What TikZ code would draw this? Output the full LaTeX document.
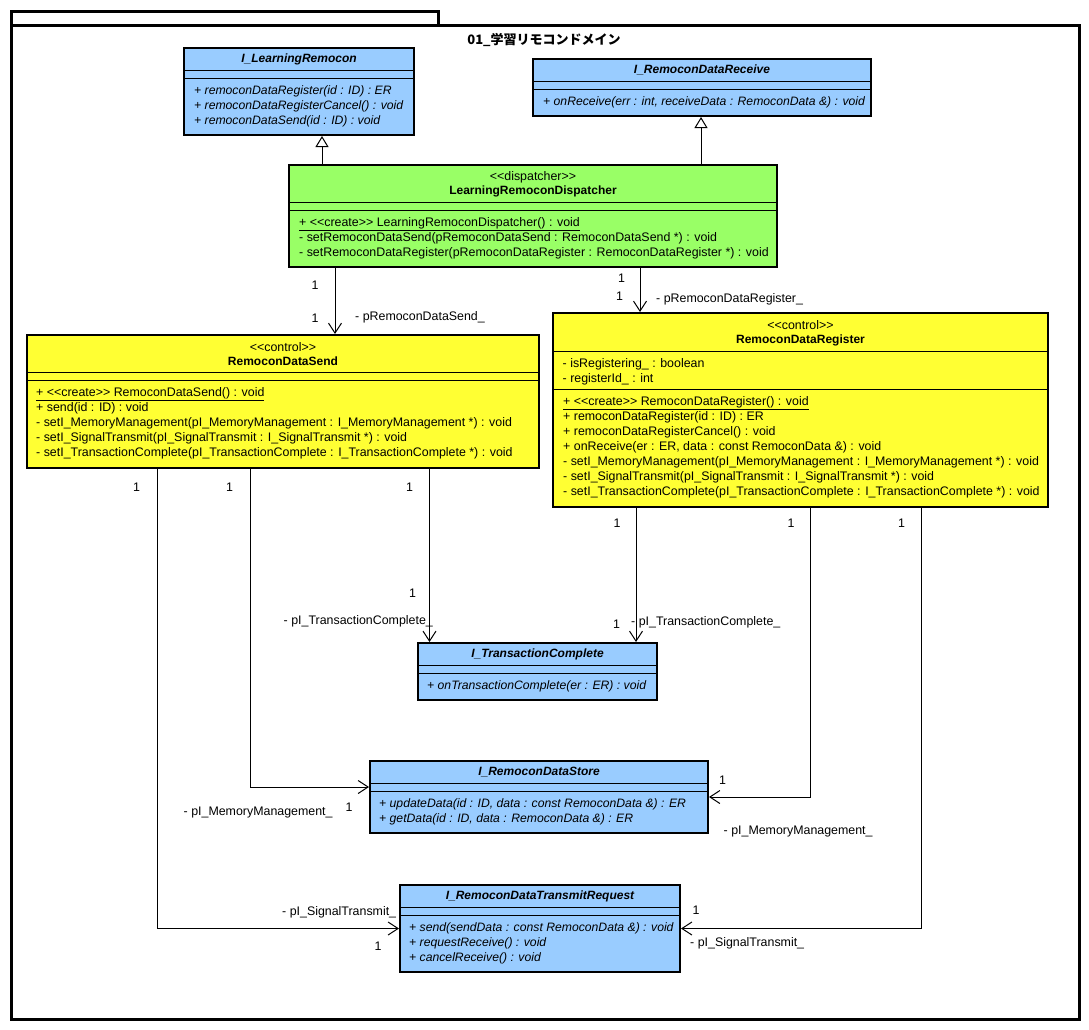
\documentclass[tikz,border=0pt]{standalone}
\usepackage{fontspec}
\setmainfont{Liberation Sans}
\newfontfamily\jpfont{Noto Sans CJK JP}
\usepackage{xcolor}
\usetikzlibrary{
    arrows.meta,
    positioning,
    calc,
}

\definecolor{ifaceblue}{HTML}{99CCFF}
\definecolor{ctrlyellow}{HTML}{FFFF33}
\definecolor{dispgreen}{HTML}{99FF66}

\newcommand{\umlsize}{\fontsize{12.4pt}{15pt}\selectfont}

\begin{document}
\begin{tikzpicture}[
        x=1pt, y=-1pt,
        classbox/.style={
            rectangle, draw=black, line width=2pt, fill=#1,
            anchor=north west, inner sep=0pt
        },
        classbox/.default=ifaceblue,
        sepline/.style={line width=1pt},
        cname/.style={inner sep=0pt, font=\fontsize{12pt}{15pt}\selectfont\bfseries},
        stereo/.style={inner sep=0pt, font=\umlsize},
        members/.style={anchor=north west, align=left, inner sep=0pt, font=\umlsize},
        opsit/.style={members, font=\fontsize{12.2pt}{15pt}\selectfont\itshape},
        mult/.style={inner sep=0pt, font=\umlsize},
        role/.style={anchor=west, inner sep=0pt, font=\umlsize},
        assoc/.style={-{Straight Barb[length=10pt,width=13pt]}, line width=1pt},
        realize/.style={-{Triangle[open,length=11pt,width=13pt]}, line width=1pt},
        pkg/.style={rectangle, draw=black, line width=2.5pt, anchor=north west, inner sep=0pt},
    ]
    \useasboundingbox (0,0) rectangle (1089,1029);

    % ── Package frame ──
    \node[pkg, minimum width=427pt, minimum height=14pt] (pkgtab) at (10,10) {};
    \node[pkg, minimum width=1068pt, minimum height=994pt] (pkgbody) at (10,24) {};
    \node[inner sep=0pt, font=\jpfont\fontsize{13pt}{15pt}\selectfont\bfseries] (pkgname) at (544,40)
        {01\_学習リモコンドメイン};

    % ── I_LearningRemocon ──
    \node[classbox, minimum width=230pt, minimum height=87pt] (lr) at (183,47) {};
    \node[cname] (lr-name) at ([yshift=-12pt]lr.north) {\itshape I\_LearningRemocon};
    \draw[sepline] ([yshift=-23pt]lr.north west) -- ([yshift=-23pt]lr.north east);
    \draw[sepline] ([yshift=-31pt]lr.north west) -- ([yshift=-31pt]lr.north east);
    \node[opsit] (lr-ops) at ([xshift=11pt,yshift=-37pt]lr.north west)
        {\strut+ remoconDataRegister(id : ID) : ER\\
         + remoconDataRegisterCancel() : void\\
         + remoconDataSend(id : ID) : void};

    % ── I_RemoconDataReceive ──
    \node[classbox, minimum width=338pt, minimum height=57pt] (rcv) at (532,58) {};
    \node[cname] (rcv-name) at ([yshift=-12pt]rcv.north) {\itshape I\_RemoconDataReceive};
    \draw[sepline] ([yshift=-23pt]rcv.north west) -- ([yshift=-23pt]rcv.north east);
    \draw[sepline] ([yshift=-31pt]rcv.north west) -- ([yshift=-31pt]rcv.north east);
    \node[opsit] (rcv-ops) at ([xshift=11pt,yshift=-37pt]rcv.north west)
        {\strut+ onReceive(err : int, receiveData : RemoconData \&) : void};

    % ── LearningRemoconDispatcher ──
    \node[classbox=dispgreen, minimum width=488pt, minimum height=102pt] (disp) at (288,164) {};
    \node[stereo] (disp-st) at ([yshift=-13.5pt]disp.north) {<{}<dispatcher>{}>};
    \node[cname] (disp-name) at ([yshift=-27.5pt]disp.north) {LearningRemoconDispatcher};
    \draw[sepline] ([yshift=-38.5pt]disp.north west) -- ([yshift=-38.5pt]disp.north east);
    \draw[sepline] ([yshift=-46pt]disp.north west) -- ([yshift=-46pt]disp.north east);
    \node[members] (disp-ops) at ([xshift=11pt,yshift=-52pt]disp.north west)
        {\strut\underline{+ <{}<create>{}> LearningRemoconDispatcher() : void}\\
         - setRemoconDataSend(pRemoconDataSend : RemoconDataSend *) : void\\
         - setRemoconDataRegister(pRemoconDataRegister : RemoconDataRegister *) : void};

    % ── RemoconDataSend ──
    \node[classbox=ctrlyellow, minimum width=512pt, minimum height=133pt] (send) at (26,334) {};
    \node[stereo] (send-st) at ([yshift=-13.5pt]send.north) {<{}<control>{}>};
    \node[cname] (send-name) at ([yshift=-27.5pt]send.north) {RemoconDataSend};
    \draw[sepline] ([yshift=-38.5pt]send.north west) -- ([yshift=-38.5pt]send.north east);
    \draw[sepline] ([yshift=-46pt]send.north west) -- ([yshift=-46pt]send.north east);
    \node[members] (send-ops) at ([xshift=10pt,yshift=-52pt]send.north west)
        {\strut\underline{+ <{}<create>{}> RemoconDataSend() : void}\\
         + send(id : ID) : void\\
         - setI\_MemoryManagement(pI\_MemoryManagement : I\_MemoryManagement *) : void\\
         - setI\_SignalTransmit(pI\_SignalTransmit : I\_SignalTransmit *) : void\\
         - setI\_TransactionComplete(pI\_TransactionComplete : I\_TransactionComplete *) : void};

    % ── RemoconDataRegister ──
    \node[classbox=ctrlyellow, minimum width=495pt, minimum height=194pt] (reg) at (552,312) {};
    \node[stereo] (reg-st) at ([yshift=-13.5pt]reg.north) {<{}<control>{}>};
    \node[cname] (reg-name) at ([yshift=-28pt]reg.north) {RemoconDataRegister};
    \draw[sepline] ([yshift=-39pt]reg.north west) -- ([yshift=-39pt]reg.north east);
    \node[members] (reg-attr) at ([xshift=10.5pt,yshift=-45pt]reg.north west)
        {\strut- isRegistering\_ : boolean\\
         - registerId\_ : int};
    \draw[sepline] ([yshift=-77pt]reg.north west) -- ([yshift=-77pt]reg.north east);
    \node[members] (reg-ops) at ([xshift=11pt,yshift=-83pt]reg.north west)
        {\strut\underline{+ <{}<create>{}> RemoconDataRegister() : void}\\
         + remoconDataRegister(id : ID) : ER\\
         + remoconDataRegisterCancel() : void\\
         + onReceive(er : ER, data : const RemoconData \&) : void\\
         - setI\_MemoryManagement(pI\_MemoryManagement : I\_MemoryManagement *) : void\\
         - setI\_SignalTransmit(pI\_SignalTransmit : I\_SignalTransmit *) : void\\
         - setI\_TransactionComplete(pI\_TransactionComplete : I\_TransactionComplete *) : void};

    % ── I_TransactionComplete ──
    \node[classbox, minimum width=239pt, minimum height=57pt] (tc) at (417,642) {};
    \node[cname] (tc-name) at ([yshift=-12pt]tc.north) {\itshape I\_TransactionComplete};
    \draw[sepline] ([yshift=-23pt]tc.north west) -- ([yshift=-23pt]tc.north east);
    \draw[sepline] ([yshift=-31pt]tc.north west) -- ([yshift=-31pt]tc.north east);
    \node[opsit] (tc-ops) at ([xshift=10pt,yshift=-37pt]tc.north west)
        {\strut+ onTransactionComplete(er : ER) : void};

    % ── I_RemoconDataStore ──
    \node[classbox, minimum width=338pt, minimum height=72pt] (store) at (369,760) {};
    \node[cname] (store-name) at ([yshift=-12pt]store.north) {\itshape I\_RemoconDataStore};
    \draw[sepline] ([yshift=-23pt]store.north west) -- ([yshift=-23pt]store.north east);
    \draw[sepline] ([yshift=-31pt]store.north west) -- ([yshift=-31pt]store.north east);
    \node[opsit] (store-ops) at ([xshift=10pt,yshift=-37pt]store.north west)
        {\strut+ updateData(id : ID, data : const RemoconData \&) : ER\\
         + getData(id : ID, data : RemoconData \&) : ER};

    % ── I_RemoconDataTransmitRequest ──
    \node[classbox, minimum width=280pt, minimum height=87pt] (tr) at (399,884) {};
    \node[cname] (tr-name) at ([yshift=-12pt]tr.north) {\itshape I\_RemoconDataTransmitRequest};
    \draw[sepline] ([yshift=-23pt]tr.north west) -- ([yshift=-23pt]tr.north east);
    \draw[sepline] ([yshift=-31pt]tr.north west) -- ([yshift=-31pt]tr.north east);
    \node[opsit] (tr-ops) at ([xshift=10pt,yshift=-37pt]tr.north west)
        {\strut+ send(sendData : const RemoconData \&) : void\\
         + requestReceive() : void\\
         + cancelReceive() : void};

    % ── Realizations ──
    \draw[realize] ([xshift=34pt]disp.north west) -- ([xshift=139pt]lr.south west);
    \draw[realize] ([xshift=413pt]disp.north west) -- ([xshift=169pt]rcv.south west);

    % ── Associations ──
    \draw[assoc] ([xshift=47pt]disp.south west) -- ([xshift=309pt]send.north west);
    \draw[assoc] ([xshift=352pt]disp.south west) -- ([xshift=88pt]reg.north west);
    \draw[assoc] ([xshift=403.5pt]send.south west) -- ([xshift=12.5pt]tc.north west);
    \draw[assoc] ([xshift=84pt]reg.south west) -- ([xshift=219pt]tc.north west);
    \draw[assoc] ([xshift=224.5pt]send.south west) |- ([yshift=-27pt]store.north west);
    \draw[assoc] ([xshift=258pt]reg.south west) |- (store.east);
    \draw[assoc] ([xshift=131pt]send.south west) |- (tr.west);
    \draw[assoc] ([xshift=369pt]reg.south west) |- (tr.east);

    % ── Multiplicities and roles ──
    \node[mult] (m-ds1) at (315,285) {1};
    \node[mult] (m-ds2) at (315,318) {1};
    \node[role] (r-ds) at (355,317) {- pRemoconDataSend\_};
    \node[mult] (m-dr1) at (621.5,278) {1};
    \node[mult] (m-dr2) at (619.5,296) {1};
    \node[role] (r-dr) at (656,299) {- pRemoconDataRegister\_};

    \node[mult] (m-st1) at (409.5,487) {1};
    \node[mult] (m-st2) at (412.5,593) {1};
    \node[role] (r-st) at (283.5,621.5) {- pI\_TransactionComplete\_};
    \node[mult] (m-rt1) at (617,523.5) {1};
    \node[mult] (m-rt2) at (616.5,624) {1};
    \node[role] (r-rt) at (631,622) {- pI\_TransactionComplete\_};

    \node[mult] (m-sm1) at (229.5,487) {1};
    \node[mult] (m-sm2) at (349,807) {1};
    \node[role] (r-sm) at (183.5,812.5) {- pI\_MemoryManagement\_};
    \node[mult] (m-rm1) at (791,523.5) {1};
    \node[mult] (m-rm2) at (722.5,780) {1};
    \node[role] (r-rm) at (723.5,831.5) {- pI\_MemoryManagement\_};

    \node[mult] (m-sx1) at (136.5,487) {1};
    \node[mult] (m-sx2) at (378,946.5) {1};
    \node[role] (r-sx) at (282,912.5) {- pI\_SignalTransmit\_};
    \node[mult] (m-rx1) at (901.5,523.5) {1};
    \node[mult] (m-rx2) at (696,910) {1};
    \node[role] (r-rx) at (690,943) {- pI\_SignalTransmit\_};

\end{tikzpicture}
\end{document}
